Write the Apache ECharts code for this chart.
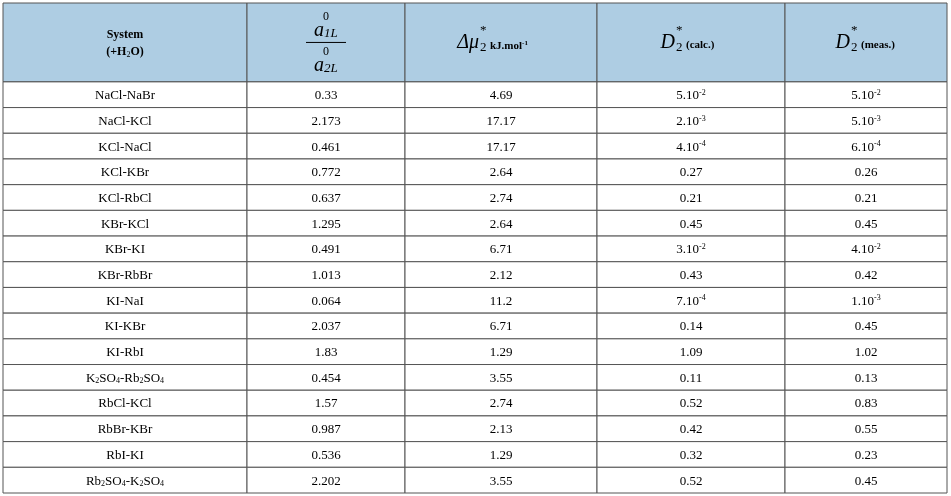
<!DOCTYPE html>
<html>
<head>
<meta charset="utf-8">
<script src="https://cdn.jsdelivr.net/npm/echarts@6/dist/echarts.min.js"></script>
<style>html,body{margin:0;padding:0;background:#fff}#main{width:951px;height:496px}</style>
</head>
<body>
<div id="main"></div>
<script>
// table data
var systems = ['NaCl-NaBr','NaCl-KCl','KCl-NaCl','KCl-KBr','KCl-RbCl','KBr-KCl','KBr-KI','KBr-RbBr','KI-NaI','KI-KBr','KI-RbI','K2SO4-Rb2SO4','RbCl-KCl','RbBr-KBr','RbI-KI','Rb2SO4-K2SO4'];
var ratioA = ['0.33','2.173','0.461','0.772','0.637','1.295','0.491','1.013','0.064','2.037','1.83','0.454','1.57','0.987','0.536','2.202'];
var deltaMu = ['4.69','17.17','17.17','2.64','2.74','2.64','6.71','2.12','11.2','6.71','1.29','3.55','2.74','2.13','1.29','3.55'];
var dCalc = ['5.10-2','2.10-3','4.10-4','0.27','0.21','0.45','3.10-2','0.43','7.10-4','0.14','1.09','0.11','0.52','0.42','0.32','0.52'];
var dMeas = ['5.10-2','5.10-3','6.10-4','0.26','0.21','0.45','4.10-2','0.42','1.10-3','0.45','1.02','0.13','0.83','0.55','0.23','0.45'];

var colEdges = [0, 244, 402, 594, 782, 944];
var headerRows = 3.07;
var FONT = 'Liberation Serif';
var LINE = '#555';

function fmt(s) {
  // "5.10-2" -> exponent; "K2SO4" -> subscripts
  var m = s.match(/^(\d)\.10(-\d)$/);
  if (m) return m[1] + '.10{sup|' + m[2] + '}';
  return s.replace(/([A-Za-z\)])(\d)/g, '$1{sub|$2}');
}

var cells = [];
var cols = [systems, ratioA, deltaMu, dCalc, dMeas];
for (var c = 0; c < cols.length; c++) {
  for (var r = 0; r < cols[c].length; r++) cells.push([c, r, cols[c][r]]);
}
var headers = [0, 1, 2, 3, 4];

var rich = {
  sup: {fontSize: 8, verticalAlign: 'top', padding: [0, 0, 6, 0], fontFamily: FONT, color: '#000'},
  sub: {fontSize: 8, padding: [6, 0, 0, 0], fontFamily: FONT, color: '#000'}
};

function cellRect(api, c, r0, r1) {
  var p0 = api.coord([colEdges[c], r0]);
  var p1 = api.coord([colEdges[c + 1], r1]);
  return {x: p0[0], y: p0[1], width: p1[0] - p0[0], height: p1[1] - p0[1]};
}

function txt(x, y, s, size, style, extra) {
  return {type: 'text', style: Object.assign({x: x, y: y, text: s, fontSize: size, fontFamily: FONT,
    fontStyle: style || 'normal', fill: '#000', align: 'center', verticalAlign: 'middle'}, extra || {})};
}

function renderHeader(params, api) {
  var c = api.value(0);
  var rc = cellRect(api, c, -headerRows, 0);
  var cx = rc.x + rc.width / 2, cy = rc.y + rc.height / 2;
  var ch = [{type: 'rect', shape: rc, style: {fill: '#aecde3', stroke: LINE, lineWidth: 1}}];
  if (c === 0) {
    ch.push(txt(cx, cy - 8, 'System', 12, 'normal', {fontWeight: 'bold'}));
    ch.push({type: 'text', style: {x: cx, y: cy + 9, text: '(+H{sub|2}O)', fontSize: 12, fontWeight: 'bold',
      fontFamily: FONT, fill: '#000', align: 'center', verticalAlign: 'middle', rich: rich}});
  } else if (c === 1) {
    ch.push(txt(cx, cy - 26, '0', 12));
    ch.push(txt(cx, cy - 12, 'a', 20, 'italic', {align: 'right', x: cx - 2}));
    ch.push(txt(cx - 2, cy - 9, '1L', 13, 'italic', {align: 'left'}));
    ch.push({type: 'line', shape: {x1: cx - 20, y1: cy, x2: cx + 20, y2: cy}, style: {stroke: '#000', lineWidth: 1}});
    ch.push(txt(cx, cy + 9, '0', 12));
    ch.push(txt(cx, cy + 23, 'a', 20, 'italic', {align: 'right', x: cx - 2}));
    ch.push(txt(cx - 2, cy + 26, '2L', 13, 'italic', {align: 'left'}));
  } else if (c === 2) {
    ch.push(txt(cx - 22, cy, 'Δμ', 20, 'italic', {align: 'right'}));
    ch.push(txt(cx - 21, cy - 12, '*', 13, 'normal', {align: 'left'}));
    ch.push(txt(cx - 21, cy + 5, '2', 13, 'normal', {align: 'left'}));
    ch.push({type: 'text', style: {x: cx - 11, y: cy + 4, text: 'kJ.mol{s|-1}', fontSize: 11, fontWeight: 'bold',
      fontFamily: FONT, fill: '#000', align: 'left', verticalAlign: 'middle',
      rich: {s: {fontSize: 7, padding: [0, 0, 6, 0], fontFamily: FONT, fontWeight: 'bold', color: '#000'}}}});
  } else {
    ch.push(txt(cx - 16, cy, 'D', 20, 'italic', {align: 'right'}));
    ch.push(txt(cx - 15, cy - 12, '*', 13, 'normal', {align: 'left'}));
    ch.push(txt(cx - 15, cy + 5, '2', 13, 'normal', {align: 'left'}));
    ch.push(txt(cx - 5, cy + 3, c === 3 ? '(calc.)' : '(meas.)', 11, 'normal', {align: 'left', fontWeight: 'bold'}));
  }
  return {type: 'group', children: ch};
}

function renderCell(params, api) {
  var c = api.value(0), r = api.value(1);
  var rc = cellRect(api, c, r, r + 1);
  var s = cells[params.dataIndex][2];
  return {type: 'group', children: [
    {type: 'rect', shape: rc, style: {fill: '#fff', stroke: LINE, lineWidth: 1}},
    {type: 'text', style: {x: rc.x + rc.width / 2, y: rc.y + rc.height / 2 + 1, text: fmt(s), fontSize: 13,
      fontFamily: FONT, fill: '#000', align: 'center', verticalAlign: 'middle', rich: rich}}
  ]};
}

var chart = echarts.init(document.getElementById('main'));
chart.setOption({
  animation: false,
  grid: {left: 3, top: 3, width: 944, height: 490},
  xAxis: {type: 'value', min: 0, max: 944, show: false},
  yAxis: {type: 'value', min: -headerRows, max: systems.length, inverse: true, show: false},
  series: [
    {type: 'custom', renderItem: renderHeader, data: headers.map(function (h) { return [h]; }), encode: {x: 0}},
    {type: 'custom', renderItem: renderCell, data: cells, encode: {x: 0, y: 1}}
  ]
});
</script>
</body>
</html>
